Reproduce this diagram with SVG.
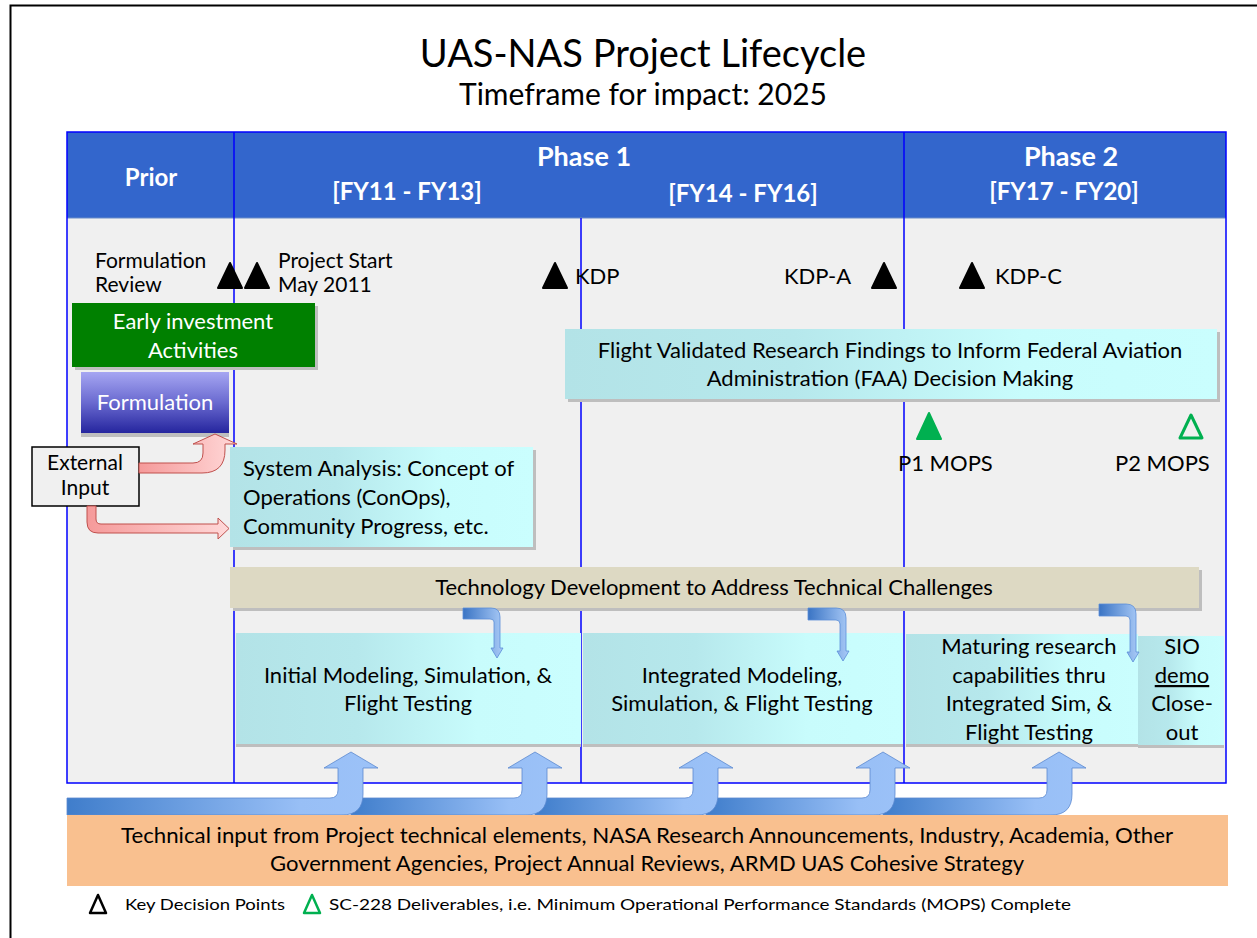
<svg xmlns="http://www.w3.org/2000/svg" width="1257" height="938" viewBox="0 0 1257 938">
<defs>
<style>
text{font-family:Lato,"Liberation Sans",sans-serif;fill:#000}
.hd{font-weight:bold;fill:#fff;font-size:24px;text-anchor:middle}
.ph{font-size:27px}
.t20{font-size:22px}
.t21{font-size:21px}
.mid{text-anchor:middle}
.wt{fill:#fff}
.grid{stroke:#0000FF;stroke-width:1.5;fill:none}
.shadow{fill:#BEBEBE}
.tri{fill:#000;stroke:#000;stroke-width:2;stroke-linejoin:round}
.red{fill:url(#redg);stroke:#C0504D;stroke-width:1}
.sb{fill:url(#smallb);stroke:#5B8ED8;stroke-width:0.8}
.bb{fill:url(#bigb);stroke:#5A88CF;stroke-width:0.8}
</style>
<linearGradient id="cyan" x1="0" y1="0" x2="1" y2="0">
<stop offset="0" stop-color="#B3E3E7"/><stop offset="0.35" stop-color="#B6E8EC"/><stop offset="0.7" stop-color="#C8FCFC"/><stop offset="1" stop-color="#CAFEFE"/>
</linearGradient>
<linearGradient id="formg" x1="0" y1="0" x2="0" y2="1">
<stop offset="0" stop-color="#A6A6F2"/><stop offset="0.5" stop-color="#6A6AD0"/><stop offset="1" stop-color="#25259E"/>
</linearGradient>
<linearGradient id="redg" x1="0" y1="0" x2="1" y2="0">
<stop offset="0" stop-color="#F59A9A"/><stop offset="1" stop-color="#FFD8D8"/>
</linearGradient>
<linearGradient id="smallb" x1="0" y1="0" x2="1" y2="0">
<stop offset="0" stop-color="#3A74C4"/><stop offset="1" stop-color="#A9CAF7"/>
</linearGradient>
<linearGradient id="bigb" x1="0" y1="0" x2="1" y2="0">
<stop offset="0" stop-color="#3F7DCB"/><stop offset="0.75" stop-color="#98BFF6"/><stop offset="1" stop-color="#9CC2F8"/>
</linearGradient>
</defs>

<rect x="10.5" y="5.5" width="1300" height="1000" fill="#fff" stroke="#000" stroke-width="2"/>

<g id="title">
<text x="643" y="67" class="mid" font-size="38">UAS-NAS Project Lifecycle</text>
<text x="643" y="105" class="mid" font-size="30">Timeframe for impact: 2025</text>
</g>

<g id="table">
<rect x="67" y="132" width="1159" height="86" fill="#3366CC"/>
<rect x="67" y="218" width="1159" height="565" fill="#F0F0F0"/>
<line x1="67" y1="218" x2="1226" y2="218" stroke="#6A8CC8" stroke-width="1"/>
<rect x="67" y="132" width="1159" height="651" class="grid"/>
<line x1="234" y1="132" x2="234" y2="783" class="grid"/>
<line x1="581" y1="218" x2="581" y2="783" class="grid"/>
<line x1="904" y1="132" x2="904" y2="783" class="grid"/>
</g>

<g id="header-prior"><text x="151" y="186" class="hd" font-size="26">Prior</text></g>
<g id="header-phase1">
<text x="584" y="166" class="hd ph">Phase 1</text>
<text x="407" y="200" class="hd">[FY11 - FY13]</text>
<text x="743" y="202" class="hd">[FY14 - FY16]</text>
</g>
<g id="header-phase2">
<text x="1071" y="166" class="hd ph">Phase 2</text>
<text x="1064" y="200" class="hd">[FY17 - FY20]</text>
</g>

<g id="milestones">
<polygon class="tri" points="230,263 242,288 218,288"/>
<polygon class="tri" points="257,263 269,288 245,288"/>
<polygon class="tri" points="555,263 567,288 543,288"/>
<polygon class="tri" points="884,263 896,288 872,288"/>
<polygon class="tri" points="972,263 984,288 960,288"/>
<text x="95" y="268" class="t21">Formulation</text>
<text x="95" y="292" class="t21">Review</text>
<text x="278" y="268" class="t21">Project Start</text>
<text x="278" y="292" class="t21">May 2011</text>
<text x="575" y="284" class="t20">KDP</text>
<text x="784" y="284" class="t20">KDP-A</text>
<text x="995" y="284" class="t20">KDP-C</text>
<polygon points="929,413 941,439 917,439" fill="#00B050" stroke="#00B050" stroke-width="2" stroke-linejoin="round"/>
<polygon points="1191,415 1202,438 1180,438" fill="none" stroke="#00B050" stroke-width="3" stroke-linejoin="round"/>
<text x="898" y="471" class="t20">P1 MOPS</text>
<text x="1115" y="471" class="t20">P2 MOPS</text>
</g>

<g id="early-investment">
<rect x="75" y="306" width="243" height="64" class="shadow"/>
<rect x="72" y="303" width="243" height="64" fill="#008000"/>
<text x="193" y="329" class="t20 mid wt">Early investment</text>
<text x="193" y="358" class="t20 mid wt">Activities</text>
</g>

<g id="formulation">
<rect x="81" y="375" width="148" height="62" class="shadow"/>
<rect x="81" y="372" width="148" height="61" fill="url(#formg)"/>
<text x="155" y="410" class="t20 mid wt">Formulation</text>
</g>

<g id="flight-validated">
<rect x="568" y="332" width="652" height="70" class="shadow"/>
<rect x="565" y="329" width="652" height="70" fill="url(#cyan)"/>
<text x="890" y="358" class="t20 mid">Flight Validated Research Findings to Inform Federal Aviation</text>
<text x="890" y="386" class="t20 mid">Administration (FAA) Decision Making</text>
</g>

<g id="system-analysis">
<rect x="233" y="450" width="303" height="100" class="shadow"/>
<rect x="230" y="447" width="303" height="100" fill="url(#cyan)"/>
<text x="243" y="476" class="t20">System Analysis: Concept of</text>
<text x="243" y="505" class="t20">Operations (ConOps),</text>
<text x="243" y="534" class="t20">Community Progress, etc.</text>
</g>

<g id="external-input">
<rect x="32" y="447" width="107" height="59" fill="#F0F0F0" stroke="#000" stroke-width="1.5"/>
<text x="85" y="470" class="t21 mid">External</text>
<text x="85" y="495" class="t21 mid">Input</text>
</g>

<g id="tech-dev">
<rect x="233" y="570" width="969" height="41" class="shadow"/>
<rect x="230" y="567" width="969" height="41" fill="#DDD9C3"/>
<text x="714" y="595" class="t20 mid">Technology Development to Address Technical Challenges</text>
</g>

<g id="initial-msft">
<rect x="236" y="636" width="345" height="111" class="shadow"/>
<rect x="236" y="633" width="345" height="111" fill="url(#cyan)"/>
<text x="408" y="683" class="t20 mid">Initial Modeling, Simulation, &amp;</text>
<text x="408" y="711" class="t20 mid">Flight Testing</text>
</g>

<g id="integrated-msft">
<rect x="583" y="636" width="320" height="111" class="shadow"/>
<rect x="583" y="633" width="320" height="111" fill="url(#cyan)"/>
<text x="742" y="683" class="t20 mid">Integrated Modeling,</text>
<text x="742" y="711" class="t20 mid">Simulation, &amp; Flight Testing</text>
</g>

<g id="maturing">
<rect x="906" y="637" width="232" height="110" class="shadow"/>
<rect x="906" y="634" width="232" height="110" fill="url(#cyan)"/>
<text x="1029" y="654" class="t20 mid">Maturing research</text>
<text x="1029" y="683" class="t20 mid">capabilities thru</text>
<text x="1029" y="711" class="t20 mid">Integrated Sim, &amp;</text>
<text x="1029" y="740" class="t20 mid">Flight Testing</text>
</g>

<g id="sio">
<rect x="1138" y="639" width="86" height="109" class="shadow"/>
<rect x="1138" y="636" width="86" height="109" fill="url(#cyan)"/>
<text x="1182" y="654" class="t20 mid">SIO</text>
<text x="1182" y="683" class="t20 mid" text-decoration="underline">demo</text>
<text x="1182" y="711" class="t20 mid">Close-</text>
<text x="1182" y="740" class="t20 mid">out</text>
</g>

<g id="connectors">
<path class="red" d="M139,463 H193 Q203,463 203,453 V444 H193 L215,434 L237,444 H225 V450 Q225,473 202,473 H139 Z"/>
<path class="red" d="M87,506 V522 Q87,533 98,533 H218 V539 L229,528.5 L218,518 V524 H101 Q96,524 96,519 V506 Z"/>

<path class="sb" d="M463,608 H491 Q500,608 500,617 V648 H503 L497,658 L491,648 H494 V622 Q494,619 490,619 H463 Z"/>
<path class="sb" d="M808,608 H836 Q846,608 846,618 V651 H849 L843,661 L837,651 H840 V624 Q840,620 836,620 H808 Z"/>
<path class="sb" d="M1099,604 H1126 Q1136,604 1136,614 V652 H1139 L1133,662 L1127,652 H1130 V620 Q1130,616 1126,616 H1099 Z"/>

<path class="bb" d="M883,798 H1039 Q1047,798 1047,790 V768 H1032 L1059,752 L1086,768 H1072 V794 Q1072,815 1051,815 H883 Z"/>
<path class="bb" d="M706,798 H862 Q870,798 870,790 V768 H856 L883,752 L910,768 H895 V794 Q895,815 874,815 H706 Z"/>
<path class="bb" d="M535,798 H685 Q693,798 693,790 V768 H679 L706,752 L733,768 H718 V794 Q718,815 697,815 H535 Z"/>
<path class="bb" d="M351,798 H514 Q522,798 522,790 V768 H508 L535,752 L562,768 H547 V794 Q547,815 526,815 H351 Z"/>
<path class="bb" d="M67,798 H330 Q338,798 338,790 V768 H324 L351,752 L378,768 H363 V794 Q363,815 342,815 H67 Z"/>
</g>

<g id="tech-input">
<rect x="67" y="815" width="1161" height="71" fill="#F9C08F"/>
<text x="647" y="843" class="t20 mid" textLength="1052" lengthAdjust="spacingAndGlyphs">Technical input from Project technical elements, NASA Research Announcements, Industry, Academia, Other</text>
<text x="647" y="871" class="t20 mid" textLength="754" lengthAdjust="spacingAndGlyphs">Government Agencies, Project Annual Reviews, ARMD UAS Cohesive Strategy</text>
</g>

<g id="legend">
<polygon points="98,895 106,913 90,913" fill="none" stroke="#000" stroke-width="2.5" stroke-linejoin="round"/>
<text x="125" y="910" font-size="16" textLength="160" lengthAdjust="spacingAndGlyphs">Key Decision Points</text>
<polygon points="312,895 320,913 304,913" fill="none" stroke="#00B050" stroke-width="2.5" stroke-linejoin="round"/>
<text x="329" y="910" font-size="16" textLength="742" lengthAdjust="spacingAndGlyphs">SC-228 Deliverables, i.e. Minimum Operational Performance Standards (MOPS) Complete</text>
</g>
</svg>
